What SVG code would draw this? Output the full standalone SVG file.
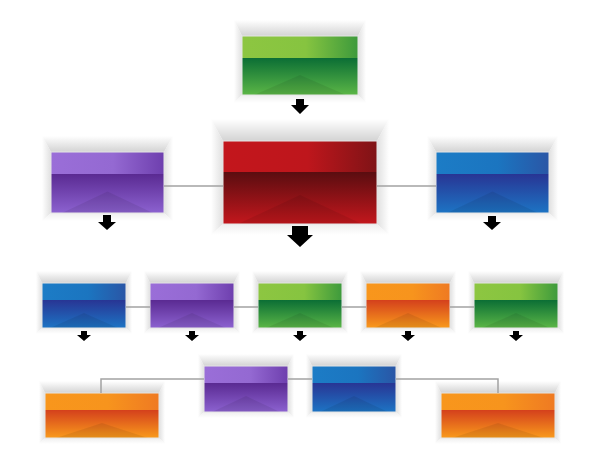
<svg xmlns="http://www.w3.org/2000/svg" width="600" height="470" viewBox="0 0 600 470">
<defs>
<linearGradient id="gFt" x1="0" y1="0" x2="0" y2="1"><stop offset="0" stop-color="#ffffff"/><stop offset="1" stop-color="#d3d3d3"/></linearGradient>
<linearGradient id="gFl" x1="0" y1="0" x2="1" y2="0"><stop offset="0" stop-color="#ffffff"/><stop offset="1" stop-color="#e0e0e0"/></linearGradient>
<linearGradient id="gFr" x1="0" y1="0" x2="1" y2="0"><stop offset="0" stop-color="#e0e0e0"/><stop offset="1" stop-color="#ffffff"/></linearGradient>
<linearGradient id="gFb" x1="0" y1="0" x2="0" y2="1"><stop offset="0" stop-color="#efefef"/><stop offset="1" stop-color="#ffffff"/></linearGradient>
<linearGradient id="gT" x1="0" y1="0" x2="1" y2="0"><stop offset="0" stop-color="#8dc641"/><stop offset="0.55" stop-color="#86c440"/><stop offset="1" stop-color="#3d9a3c"/></linearGradient>
<linearGradient id="gB" x1="0" y1="0" x2="0" y2="1"><stop offset="0" stop-color="#0b6e35"/><stop offset="1" stop-color="#5bb646"/></linearGradient>
<linearGradient id="rT" x1="0" y1="0" x2="1" y2="0"><stop offset="0" stop-color="#c3161c"/><stop offset="0.55" stop-color="#be161c"/><stop offset="1" stop-color="#7f1316"/></linearGradient>
<linearGradient id="rB" x1="0" y1="0" x2="0" y2="1"><stop offset="0" stop-color="#5a0d10"/><stop offset="1" stop-color="#c3171d"/></linearGradient>
<linearGradient id="pT" x1="0" y1="0" x2="1" y2="0"><stop offset="0" stop-color="#9a6ed8"/><stop offset="0.55" stop-color="#9469d2"/><stop offset="1" stop-color="#6e3fae"/></linearGradient>
<linearGradient id="pB" x1="0" y1="0" x2="0" y2="1"><stop offset="0" stop-color="#5a2a92"/><stop offset="1" stop-color="#8c62d0"/></linearGradient>
<linearGradient id="bT" x1="0" y1="0" x2="1" y2="0"><stop offset="0" stop-color="#1c7cc6"/><stop offset="0.55" stop-color="#1b75c0"/><stop offset="1" stop-color="#2a56a6"/></linearGradient>
<linearGradient id="bB" x1="0" y1="0" x2="0" y2="1"><stop offset="0" stop-color="#283594"/><stop offset="1" stop-color="#1d74c4"/></linearGradient>
<linearGradient id="oT" x1="0" y1="0" x2="1" y2="0"><stop offset="0" stop-color="#f8961c"/><stop offset="0.55" stop-color="#f7941d"/><stop offset="1" stop-color="#ef7a22"/></linearGradient>
<linearGradient id="oB" x1="0" y1="0" x2="0" y2="1"><stop offset="0" stop-color="#d4401c"/><stop offset="1" stop-color="#f99a1c"/></linearGradient>
</defs>
<style>
.ft{fill:url(#gFt)}
.fl{fill:url(#gFl)}
.fr{fill:url(#gFr)}
.fb{fill:url(#gFb)}
.tri{fill:#000;fill-opacity:0.08}
.edge{fill:none;stroke:#e6e6e6;stroke-width:1}
.gt{fill:url(#gT)} .gb{fill:url(#gB)}
.rt{fill:url(#rT)} .rb{fill:url(#rB)}
.pt{fill:url(#pT)} .pb{fill:url(#pB)}
.bt{fill:url(#bT)} .bb{fill:url(#bB)}
.ot{fill:url(#oT)} .ob{fill:url(#oB)}
.line{fill:none;stroke:#a3a3a3;stroke-width:1.5}
.arr{fill:#000}
</style>
<rect width="600" height="470" fill="#ffffff"/>

<g id="node-top-green">
<polygon class="ft" points="234,20 366,20 358,36 242,36"/>
<polygon class="fl" points="234,20 242,36 242,95 234,103"/>
<polygon class="fr" points="366,20 358,36 358,95 366,103"/>
<polygon class="fb" points="234,103 242,95 358,95 366,103"/>
<rect class="gt" x="242" y="36" width="116" height="22"/>
<rect class="gb" x="242" y="58" width="116" height="37"/>
<polygon class="tri" points="300,75 254,95 346,95"/>
<rect class="edge" x="242" y="36" width="116" height="59"/>
</g>

<g id="node-center-red">
<polygon class="ft" points="211,119 389,119 377,141 223,141"/>
<polygon class="fl" points="211,119 223,141 223,224 211,235"/>
<polygon class="fr" points="389,119 377,141 377,224 389,235"/>
<polygon class="fb" points="211,235 223,224 377,224 389,235"/>
<rect class="rt" x="223" y="141" width="154" height="31"/>
<rect class="rb" x="223" y="172" width="154" height="52"/>
<polygon class="tri" points="300,195 238,224 362,224"/>
<rect class="edge" x="223" y="141" width="154" height="83"/>
</g>

<g id="node-left-purple">
<polygon class="ft" points="42,136 173,136 164,152 51,152"/>
<polygon class="fl" points="42,136 51,152 51,213 42,221"/>
<polygon class="fr" points="173,136 164,152 164,213 173,221"/>
<polygon class="fb" points="42,221 51,213 164,213 173,221"/>
<rect class="pt" x="51" y="152" width="113" height="22"/>
<rect class="pb" x="51" y="174" width="113" height="39"/>
<polygon class="tri" points="107.5,191.5 62,213 153,213"/>
<rect class="edge" x="51" y="152" width="113" height="61"/>
</g>

<g id="node-right-blue">
<polygon class="ft" points="427,136 558,136 549,152 436,152"/>
<polygon class="fl" points="427,136 436,152 436,213 427,221"/>
<polygon class="fr" points="558,136 549,152 549,213 558,221"/>
<polygon class="fb" points="427,221 436,213 549,213 558,221"/>
<rect class="bt" x="436" y="152" width="113" height="22"/>
<rect class="bb" x="436" y="174" width="113" height="39"/>
<polygon class="tri" points="492.5,191.5 447,213 538,213"/>
<rect class="edge" x="436" y="152" width="113" height="61"/>
</g>

<g id="node-r3-1-blue">
<polygon class="ft" points="36,271 132,271 126,283 42,283"/>
<polygon class="fl" points="36,271 42,283 42,328 36,334"/>
<polygon class="fr" points="132,271 126,283 126,328 132,334"/>
<polygon class="fb" points="36,334 42,328 126,328 132,334"/>
<rect class="bt" x="42" y="283" width="84" height="17"/>
<rect class="bb" x="42" y="300" width="84" height="28"/>
<polygon class="tri" points="84,313 50,328 118,328"/>
<rect class="edge" x="42" y="283" width="84" height="45"/>
</g>

<g id="node-r3-2-purple">
<polygon class="ft" points="144,271 240,271 234,283 150,283"/>
<polygon class="fl" points="144,271 150,283 150,328 144,334"/>
<polygon class="fr" points="240,271 234,283 234,328 240,334"/>
<polygon class="fb" points="144,334 150,328 234,328 240,334"/>
<rect class="pt" x="150" y="283" width="84" height="17"/>
<rect class="pb" x="150" y="300" width="84" height="28"/>
<polygon class="tri" points="192,313 158,328 226,328"/>
<rect class="edge" x="150" y="283" width="84" height="45"/>
</g>

<g id="node-r3-3-green">
<polygon class="ft" points="252,271 348,271 342,283 258,283"/>
<polygon class="fl" points="252,271 258,283 258,328 252,334"/>
<polygon class="fr" points="348,271 342,283 342,328 348,334"/>
<polygon class="fb" points="252,334 258,328 342,328 348,334"/>
<rect class="gt" x="258" y="283" width="84" height="17"/>
<rect class="gb" x="258" y="300" width="84" height="28"/>
<polygon class="tri" points="300,313 266,328 334,328"/>
<rect class="edge" x="258" y="283" width="84" height="45"/>
</g>

<g id="node-r3-4-orange">
<polygon class="ft" points="360,271 456,271 450,283 366,283"/>
<polygon class="fl" points="360,271 366,283 366,328 360,334"/>
<polygon class="fr" points="456,271 450,283 450,328 456,334"/>
<polygon class="fb" points="360,334 366,328 450,328 456,334"/>
<rect class="ot" x="366" y="283" width="84" height="17"/>
<rect class="ob" x="366" y="300" width="84" height="28"/>
<polygon class="tri" points="408,313 374,328 442,328"/>
<rect class="edge" x="366" y="283" width="84" height="45"/>
</g>

<g id="node-r3-5-green">
<polygon class="ft" points="468,271 564,271 558,283 474,283"/>
<polygon class="fl" points="468,271 474,283 474,328 468,334"/>
<polygon class="fr" points="564,271 558,283 558,328 564,334"/>
<polygon class="fb" points="468,334 474,328 558,328 564,334"/>
<rect class="gt" x="474" y="283" width="84" height="17"/>
<rect class="gb" x="474" y="300" width="84" height="28"/>
<polygon class="tri" points="516,313 482,328 550,328"/>
<rect class="edge" x="474" y="283" width="84" height="45"/>
</g>

<g id="node-r4-1-orange">
<polygon class="ft" points="39,381 165,381 159,393 45,393"/>
<polygon class="fl" points="39,381 45,393 45,438 39,444"/>
<polygon class="fr" points="165,381 159,393 159,438 165,444"/>
<polygon class="fb" points="39,444 45,438 159,438 165,444"/>
<rect class="ot" x="45" y="393" width="114" height="17"/>
<rect class="ob" x="45" y="410" width="114" height="28"/>
<polygon class="tri" points="102,423 56,438 148,438"/>
<rect class="edge" x="45" y="393" width="114" height="45"/>
</g>

<g id="node-r4-2-purple">
<polygon class="ft" points="198,354 294,354 288,366 204,366"/>
<polygon class="fl" points="198,354 204,366 204,412 198,418"/>
<polygon class="fr" points="294,354 288,366 288,412 294,418"/>
<polygon class="fb" points="198,418 204,412 288,412 294,418"/>
<rect class="pt" x="204" y="366" width="84" height="17"/>
<rect class="pb" x="204" y="383" width="84" height="29"/>
<polygon class="tri" points="246,396 212,412 280,412"/>
<rect class="edge" x="204" y="366" width="84" height="46"/>
</g>

<g id="node-r4-3-blue">
<polygon class="ft" points="306,354 402,354 396,366 312,366"/>
<polygon class="fl" points="306,354 312,366 312,412 306,418"/>
<polygon class="fr" points="402,354 396,366 396,412 402,418"/>
<polygon class="fb" points="306,418 312,412 396,412 402,418"/>
<rect class="bt" x="312" y="366" width="84" height="17"/>
<rect class="bb" x="312" y="383" width="84" height="29"/>
<polygon class="tri" points="354,396 320,412 388,412"/>
<rect class="edge" x="312" y="366" width="84" height="46"/>
</g>

<g id="node-r4-4-orange">
<polygon class="ft" points="435,381 561,381 555,393 441,393"/>
<polygon class="fl" points="435,381 441,393 441,438 435,444"/>
<polygon class="fr" points="561,381 555,393 555,438 561,444"/>
<polygon class="fb" points="435,444 441,438 555,438 561,444"/>
<rect class="ot" x="441" y="393" width="114" height="17"/>
<rect class="ob" x="441" y="410" width="114" height="28"/>
<polygon class="tri" points="498,423 452,438 544,438"/>
<rect class="edge" x="441" y="393" width="114" height="45"/>
</g>

<g id="connectors">
<path class="line" d="M164,186 H223 M377,186 H436"/>
<path class="line" d="M126,307 H150 M234,307 H258 M342,307 H366 M450,307 H474"/>
<path class="line" d="M101,393 V379 H204 M288,379 H312 M396,379 H498 V393"/>
<path class="arr" d="M296,99 H304 V105 H309 L300,114 L291,105 H296 Z"/>
<path class="arr" d="M292,226 H308 V235 H313 L300,247 L287,235 H292 Z"/>
<path class="arr" d="M103,215 H111 V222 H116 L107,230 L98,222 H103 Z"/>
<path class="arr" d="M488,216 H496 V222 H501 L492,230 L483,222 H488 Z"/>
<path class="arr" d="M81,331 H87 V335 H91 L84,341 L77,335 H81 Z"/>
<path class="arr" d="M189,331 H195 V335 H199 L192,341 L185,335 H189 Z"/>
<path class="arr" d="M297,331 H303 V335 H307 L300,341 L293,335 H297 Z"/>
<path class="arr" d="M405,331 H411 V335 H415 L408,341 L401,335 H405 Z"/>
<path class="arr" d="M513,331 H519 V335 H523 L516,341 L509,335 H513 Z"/>
</g>
</svg>
